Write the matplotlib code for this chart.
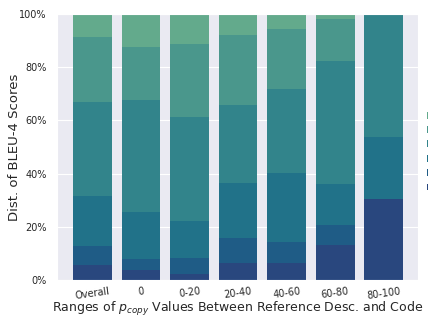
import matplotlib

matplotlib.use("Agg")
import matplotlib.pyplot as plt
import numpy as np
import seaborn as sns
from matplotlib.ticker import PercentFormatter

# p_copy ranges (x axis)
ranges = ["Overall", "0", "0-20", "20-40", "40-60", "60-80", "80-100"]

# BLEU-4 score bins, stacked bottom -> top (percent of samples in each range)
bleu_bins = ["50-100", "40-50", "30-40", "20-30", "10-20", "0-10"]
seg_1 = [5.8, 3.9, 2.4, 6.2, 6.2, 13.3, 30.3]
seg_2 = [6.8, 4.1, 6.0, 9.4, 7.9, 7.2, 0.0]
seg_3 = [18.8, 17.4, 13.6, 20.7, 26.0, 15.4, 23.3]
seg_4 = [35.4, 42.2, 39.2, 29.4, 31.6, 46.4, 46.0]
seg_5 = [24.5, 20.0, 27.5, 26.4, 22.6, 15.8, 0.0]
seg_6 = [8.7, 12.4, 11.3, 7.9, 5.7, 1.9, 0.4]

colors = ["#29477e", "#1f5c86", "#217289", "#32848b", "#4a978c", "#63aa8c"]

sns.set_style("darkgrid")
plt.rcParams["font.family"] = ["DejaVu Sans"]

fig = plt.figure(figsize=(4.28, 3.16), dpi=100)
ax = fig.add_axes([0.133, 0.114, 0.844, 0.842])

segments = [seg_1, seg_2, seg_3, seg_4, seg_5, seg_6]
x = np.arange(len(ranges))
bottom = np.zeros(len(ranges))
for label, vals, color in zip(bleu_bins, segments, colors):
    vals = np.array(vals)
    ax.bar(x, vals, width=0.8, bottom=bottom, color=color, linewidth=0, label=label)
    bottom += vals

ax.set_xlim(-0.732, 6.71)
ax.set_ylim(0, 100)
ax.set_yticks([0, 20, 40, 60, 80, 100])
ax.yaxis.set_major_formatter(PercentFormatter(decimals=0))
ax.set_xticks(x)
ax.set_xticklabels(ranges, rotation=8, ha="center")
ax.tick_params(axis="both", labelsize=7, colors="#262626")
ax.tick_params(axis="y", pad=4)
ax.tick_params(axis="x", pad=1)
ax.grid(axis="x", visible=False)

ax.set_ylabel("Dist. of BLEU-4 Scores", fontsize=9.5, color="#262626")
ax.yaxis.set_label_coords(-0.10, 0.5)
ax.set_xlabel("Ranges of $p_{copy}$ Values Between Reference Desc. and Code",
              fontsize=9, color="#262626", labelpad=-1)

handles, labels = ax.get_legend_handles_labels()
ax.legend(handles[::-1], labels[::-1], loc="center left", bbox_to_anchor=(1.0, 0.483),
          frameon=False, fontsize=7, labelspacing=0.45)

fig.savefig("out.png", dpi=100)
